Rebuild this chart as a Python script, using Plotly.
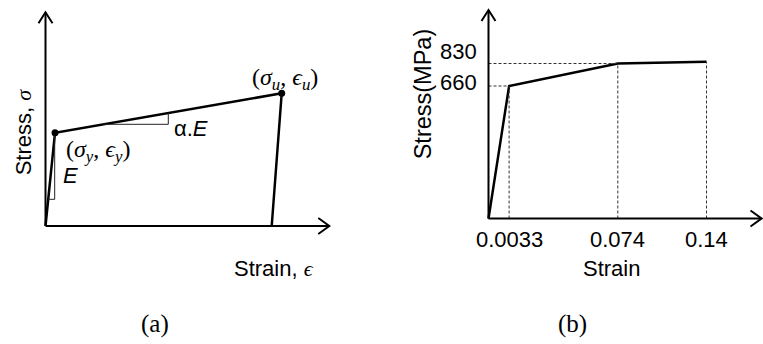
"""Bilinear stress-strain schematic (a) and material curve (b)."""
import plotly.graph_objects as go

# ---- panel (a): schematic bilinear curve, arbitrary units ----
strain_a = [0, 9.5, 236.2, 226.2]
stress_a = [0, 93.3, 132.7, 0]
# slope triangles (E and alpha.E)
tri_e_x = [2.7, 9.2, 9.2]
tri_e_y = [26.7, 26.7, 90.4]
tri_alpha_x = [57.8, 122.8, 122.8]
tri_alpha_y = [101.7, 101.7, 113.0]

# ---- panel (b): measured curve, drawn schematically (not to scale) ----
strain_pos = [0, 20.6, 129.3, 218.0]
stress_pos = [0, 132.5, 155.0, 156.8]
strain_labels = ["0.0033", "0.074", "0.14"]
stress_labels = ["660", "830"]

SANS = "Liberation Sans, Arial, sans-serif"
SERIF = "Liberation Serif, DejaVu Serif, serif"
BLACK = "#000000"

fig = go.Figure()

# panel (a)
fig.add_trace(go.Scatter(x=strain_a, y=stress_a, mode="lines", xaxis="x", yaxis="y",
                         line=dict(color=BLACK, width=2.5)))
fig.add_trace(go.Scatter(x=strain_a[1:3], y=stress_a[1:3], mode="markers", xaxis="x", yaxis="y",
                         marker=dict(color=BLACK, size=7)))
for tx, ty in [(tri_e_x, tri_e_y), (tri_alpha_x, tri_alpha_y)]:
    fig.add_trace(go.Scatter(x=tx, y=ty, mode="lines", xaxis="x", yaxis="y",
                             line=dict(color="#222222", width=1)))

# panel (b)
fig.add_trace(go.Scatter(x=strain_pos, y=stress_pos, mode="lines", xaxis="x2", yaxis="y2",
                         line=dict(color=BLACK, width=2.5)))
for i in range(1, 4):
    fig.add_trace(go.Scatter(x=[strain_pos[i], strain_pos[i]], y=[0, stress_pos[i]], mode="lines",
                             xaxis="x2", yaxis="y2",
                             line=dict(color="#333333", width=1, dash="3px,2px")))
for i in range(1, 3):
    fig.add_trace(go.Scatter(x=[0, strain_pos[i]], y=[stress_pos[i], stress_pos[i]], mode="lines",
                             xaxis="x2", yaxis="y2",
                             line=dict(color="#333333", width=1, dash="3px,2px")))

# axes with open arrowheads
ax_line = dict(color=BLACK, width=2)
shapes = []
for xr, yr, xtip, ytip in [("x", "y", 283.8, 213.7), ("x2", "y2", 273.0, 208.5)]:
    shapes += [
        dict(type="line", xref=xr, yref=yr, x0=0, y0=0, x1=0, y1=ytip, line=ax_line),
        dict(type="line", xref=xr, yref=yr, x0=0, y0=0, x1=xtip, y1=0, line=ax_line),
        dict(type="path", xref=xr, yref=yr, line=ax_line,
             path=f"M -7,{ytip - 11} L 0,{ytip} L 7,{ytip - 11}"),
        dict(type="path", xref=xr, yref=yr, line=ax_line,
             path=f"M {xtip - 11},-8 L {xtip},0 L {xtip - 11},8"),
    ]

ann = []


def label(text, x, y, xref="x", yref="y", size=22, family=SANS, angle=0, **kw):
    ann.append(dict(text=text, x=x, y=y, xref=xref, yref=yref, showarrow=False,
                    xanchor=kw.pop("xanchor", "center"), yanchor=kw.pop("yanchor", "middle"),
                    font=dict(family=family, size=size, color=BLACK), textangle=angle, **kw))


sig = '<span style="font-family:Liberation Serif, DejaVu Serif, serif"><i>%s</i></span>'

# panel (a) text
label("(<i>σ</i><sub><i>y</i></sub>, <i>ϵ</i><sub><i>y</i></sub>)", 52.3, 75.3, family=SERIF, size=24)
label("<i>E</i>", 25, 51)
label("α.<i>E</i>", 126.5, 98, xanchor="left")
label("(<i>σ</i><sub><i>u</i></sub>, <i>ϵ</i><sub><i>u</i></sub>)", 239, 147, family=SERIF, size=24)
label("Stress, " + sig % "σ", -22.2, 94, angle=-90)
label("Strain, " + sig % "ϵ", 228.5, -42.3)

# panel (b) text
for xv, t in zip(strain_pos[1:], strain_labels):
    label(t, xv, 0, xref="x2", yref="y2", yshift=-21)
for yv, t in zip(stress_pos[1:3], stress_labels):
    label(t, 0, yv, xref="x2", yref="y2", xanchor="right", xshift=-10, yshift=4 if t == "660" else 12)
label("Stress(MPa)", -65.2, 124.5, xref="x2", yref="y2", angle=-90, size=23.5)
label("Strain", 123.2, -49.8, xref="x2", yref="y2")

# captions
label("(a)", 155 / 763, 20 / 344, xref="paper", yref="paper", size=25, family=SERIF)
label("(b)", 572 / 763, 20 / 344, xref="paper", yref="paper", size=25, family=SERIF)

hidden = dict(visible=False, fixedrange=True)
fig.update_layout(
    width=763, height=344,
    margin=dict(l=0, r=0, t=0, b=0),
    paper_bgcolor="white", plot_bgcolor="white",
    showlegend=False,
    xaxis=dict(domain=[0, 0.5], range=[-45.5, 336.0], **hidden),
    yaxis=dict(domain=[0, 1], range=[-118, 226], **hidden),
    xaxis2=dict(domain=[0.5, 1], range=[-107.0, 274.5], **hidden),
    yaxis2=dict(domain=[0, 1], range=[-125.5, 218.5], anchor="x2", **hidden),
    shapes=shapes,
    annotations=ann,
)

# page has a default 8px body margin; drop it so the figure sits at the window corner
fig.write_html("out.html", config={"displayModeBar": False},
               post_script="document.body.style.margin='0';")
